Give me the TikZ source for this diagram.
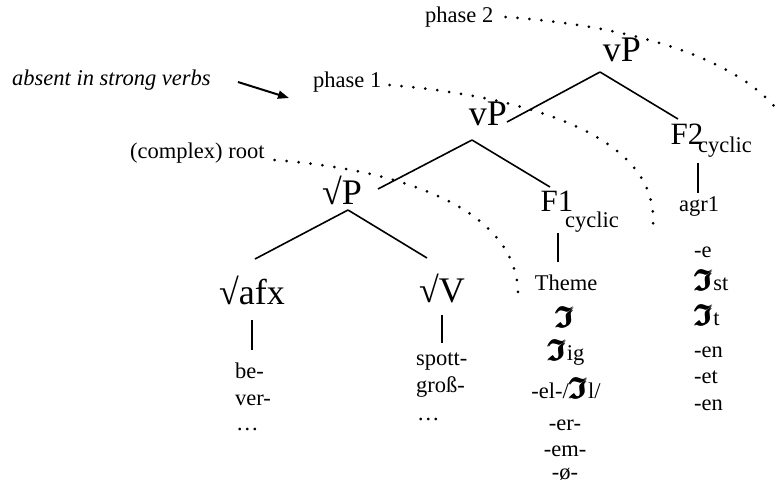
\documentclass[tikz,border=0pt]{standalone}
\usepackage{amsmath,amssymb}
\usepackage{fontspec}
\setmainfont{Liberation Serif}
\usetikzlibrary{calc,arrows.meta}
\newcommand{\FrI}{\raisebox{-0.5pt}{\scalebox{1.3}{\ensuremath{\pmb{\boldsymbol{\mathfrak{I}}}}}}}
\begin{document}
\begin{tikzpicture}[x=1pt,y=-1pt,
 txt/.style={inner sep=0pt,font=\fontsize{22.5}{27}\selectfont},
 big/.style={inner sep=0pt,font=\fontsize{36}{40}\selectfont},
 midf/.style={inner sep=0pt,font=\fontsize{31}{36}\selectfont},
 branch/.style={line width=1.6pt},
 dotline/.style={line width=3pt,line cap=round,dash pattern=on 0pt off 12pt},
]
\useasboundingbox (0,0) rectangle (779,485);
\clip (0,0) rectangle (779,485);
% tree nodes
\node[big] (vP2) at (622,50) {vP};
\node[big] (vP1) at (488,114) {vP};
\node[big] (rP) at (342,190) {√P};
\node[big] (afx) at (252,290) {√afx};
\node[big] (rV) at (442,289) {√V};
\node[midf] (F2) at (687,134) {F2};
\node[txt] (cyc2) at (725,147) {cyclic};
\node[midf] (F1) at (557,201) {F1};
\node[txt] (cyc1) at (592,222) {cyclic};
% branches
\draw[branch] ($(vP2)+(-22,22)$) -- ($(vP1)+(19,8)$);
\draw[branch] ($(vP2)+(-22,22)$) -- ($(F2)+(-9,-15)$);
\draw[branch] ($(vP1)+(-16,26)$) -- ($(rP)+(36,-1)$);
\draw[branch] ($(vP1)+(-16,26)$) -- ($(F1)+(-7,-14)$);
\draw[branch] ($(rP)+(6,20)$) -- ($(afx)+(3,-31)$);
\draw[branch] ($(rP)+(6,20)$) -- ($(rV)+(-15,-31)$);
% vertical lines
\draw[branch] ($(afx)+(0,30)$) -- ($(afx)+(0,60)$);
\draw[branch] ($(rV)+(0,26)$) -- ($(rV)+(0,54)$);
\draw[branch] ($(F1)+(1,32)$) -- ($(F1)+(1,61)$);
\draw[branch] ($(F2)+(11,29)$) -- ($(F2)+(11,59)$);
% exponent lists
\node[txt,anchor=base west] (be) at (235,378) {be-};
\node[txt,anchor=base west] (ver) at (235,405) {ver-};
\node[txt,anchor=base west] (dA) at (236,430) {…};
\node[txt,anchor=base west] (spott) at (416,365) {spott-};
\node[txt,anchor=base west] (gross) at (416,392) {groß-};
\node[txt,anchor=base west] (dB) at (417,420) {…};
\node[txt,anchor=base] (theme) at (566,290) {Theme};
\node[txt,anchor=base] (t1) at (565,327) {\FrI};
\node[txt,anchor=base] (t2) at (566,360) {\FrI ig};
\node[txt,anchor=base] (t3) at (566,398) {-el-/\FrI l/};
\node[txt,anchor=base] (t4) at (565,430) {-er-};
\node[txt,anchor=base] (t5) at (565,456) {-em-};
\node[txt,anchor=base] (t6) at (565,479) {-ø-};
\node[txt,anchor=base] (agr) at (699,211) {agr1};
\node[txt,anchor=base west] (a1) at (694,257) {-e};
\node[txt,anchor=base west] (a2) at (694,290) {\FrI st};
\node[txt,anchor=base west] (a3) at (694,325) {\FrI t};
\node[txt,anchor=base west] (a4) at (694,357) {-en};
\node[txt,anchor=base west] (a5) at (694,383) {-et};
\node[txt,anchor=base west] (a6) at (694,410) {-en};
% labels
\node[txt,anchor=base west] (ph2) at (425,22) {phase 2};
\node[txt,anchor=base west] (ph1) at (313,87) {phase 1};
\node[txt,anchor=base west] (croot) at (130,158) {(complex) root};
\node[txt,anchor=base west] (absent) at (12,85) {\itshape absent in strong verbs};
\coordinate (tip) at (289,98);
\draw[line width=2pt,-{Triangle[length=11pt,width=8pt]}] ($(absent.base east)+(27,-3)$) -- (tip);
% phase curves
\draw[dotline] ($(ph2.base east)+(12,-5)$) .. controls (620,25) and (750,55) .. (790,128);
\draw[dotline] ($(ph1.base east)+(8,-2)$) .. controls (510,95) and (660,130) .. (653,226);
\draw[dotline] ($(croot.base east)+(10,2)$) .. controls (427,172) and (520,220) .. (518,297);
\end{tikzpicture}
\end{document}
